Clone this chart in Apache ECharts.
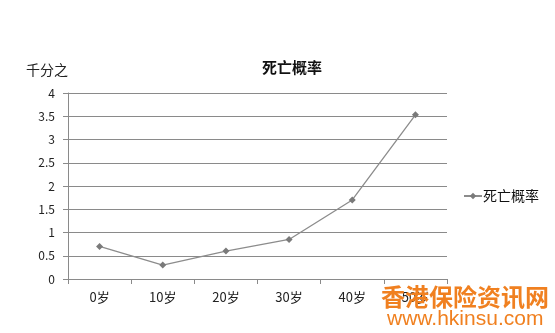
<!DOCTYPE html>
<html>
<head>
<meta charset="utf-8">
<script src="https://cdn.jsdelivr.net/npm/echarts@6/dist/echarts.min.js"></script>
<style>
html,body{margin:0;padding:0;background:#fff;}
#chart{width:555px;height:333px;}
</style>
</head>
<body>
<div id="chart"></div>
<script>
const categories = ['0岁', '10岁', '20岁', '30岁', '40岁', '50岁'];
const deathRate = [0.7, 0.3, 0.6, 0.85, 1.7, 3.53];
const seriesName = '死亡概率';
const yUnit = '千分之';

const FONT = '"Noto Sans CJK SC", "Liberation Sans", sans-serif';
const chart = echarts.init(document.getElementById('chart'));
chart.setOption({
    animation: false,
    textStyle: {fontFamily: FONT, color: '#222'},
    title: {
        text: '死亡概率',
        left: 287,
        top: 55,
        textAlign: 'center',
        textStyle: {fontSize: 15, fontWeight: 'bold', color: '#111', fontFamily: FONT}
    },
    legend: {
        data: [seriesName],
        left: 458,
        top: 184,
        itemWidth: 18,
        itemHeight: 8,
        itemGap: 2,
        textStyle: {fontSize: 14, color: '#111', fontFamily: FONT, padding: [0, 0, 0, -4]}
    },
    grid: {left: 68, right: 108, top: 93, bottom: 54},
    xAxis: {
        type: 'category',
        data: categories,
        boundaryGap: true,
        axisLine: {lineStyle: {color: '#8a8a8a', width: 1}},
        axisTick: {show: true, length: 5, lineStyle: {color: '#8a8a8a'}},
        axisLabel: {fontSize: 13, color: '#222', margin: 12}
    },
    yAxis: {
        type: 'value',
        min: 0,
        max: 4,
        interval: 0.5,
        name: yUnit,
        nameLocation: 'end',
        nameGap: 16,
        nameTextStyle: {fontSize: 14, color: '#222', align: 'right'},
        axisLine: {show: true, lineStyle: {color: '#8a8a8a', width: 1}},
        axisTick: {show: true, length: 5, lineStyle: {color: '#8a8a8a'}},
        axisLabel: {fontSize: 12, color: '#222', margin: 13},
        splitLine: {lineStyle: {color: '#8a8a8a', width: 1}}
    },
    series: [{
        name: seriesName,
        type: 'line',
        data: deathRate,
        symbol: 'diamond',
        symbolSize: 7,
        itemStyle: {color: '#7a7a7a'},
        lineStyle: {color: '#8c8c8c', width: 1.3}
    }],
    graphic: [
        {type: 'text', left: 381, top: 285, z: 100,
         style: {text: '香港保险资讯网', fill: '#f08020', font: 'bold 24px "Noto Sans CJK SC"'}},
        {type: 'text', left: 387, top: 309, z: 100,
         style: {text: 'www.hkinsu.com', fill: '#f08020', font: '21px "Liberation Sans"'}}
    ]
});
</script>
</body>
</html>
